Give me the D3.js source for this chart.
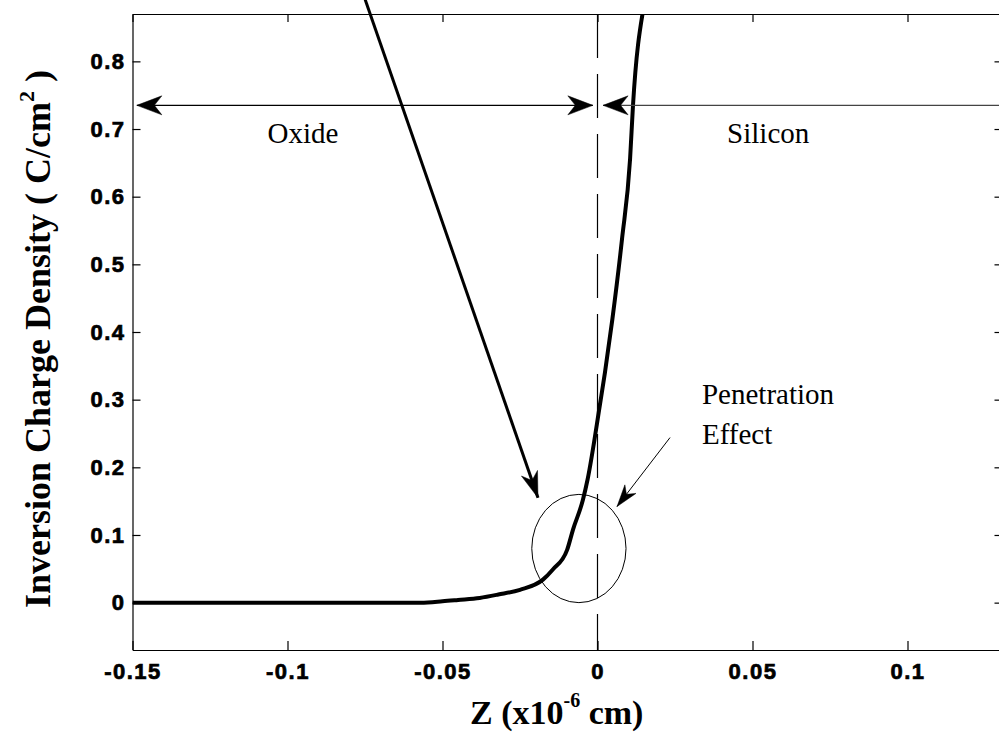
<!DOCTYPE html>
<html>
<head>
<meta charset="utf-8">
<script src="https://cdn.jsdelivr.net/npm/d3@7"></script>
<style>
  html, body { margin: 0; padding: 0; background: #fff; }
  svg { display: block; }
  .tick text { font-family: "Liberation Sans", Arial, sans-serif; font-weight: bold; font-size: 22px; letter-spacing: 1.5px; fill: #000; stroke: #000; stroke-width: 0.7px; }
  .tick line, .domain { stroke: #000; stroke-width: 1.2; }
</style>
</head>
<body>
<svg id="chart" width="999" height="734"></svg>
<script>
// Inversion charge density across the oxide / silicon interface
const positionZ = [-0.15, -0.1, -0.057, -0.05, -0.045, -0.038, -0.032, -0.025, -0.0176, -0.0144,
                   -0.0098, -0.0079, -0.0047, -0.0032, 0.0008, 0.0024, 0.0048, 0.0079, 0.0105, 0.01145, 0.0147];
const chargeDensity = [0, 0, 0, 0.002, 0.004, 0.007, 0.012, 0.019, 0.034, 0.049,
                       0.078, 0.108, 0.152, 0.182, 0.293, 0.34, 0.419, 0.537, 0.655, 0.735, 0.875];

const xTickValues = [-0.15, -0.1, -0.05, 0, 0.05, 0.1];
const xTickLabels = ["-0.15", "-0.1", "-0.05", "0", "0.05", "0.1"];
const yTickValues = [0, 0.1, 0.2, 0.3, 0.4, 0.5, 0.6, 0.7, 0.8];
const yTickLabels = ["0", "0.1", "0.2", "0.3", "0.4", "0.5", "0.6", "0.7", "0.8"];

// Annotation anchors in data units
const interfaceZ = 0;
const regionArrowQ = 0.735;
const oxideArrow = { left: -0.1486, right: -0.0015 };
const siliconArrow = { left: 0.0018, right: 0.13 };
const pointerArrow = { z1: -0.075, q1: 0.892, z2: -0.0192, q2: 0.155 };
const effectArrow = { z1: 0.0234, q1: 0.244, z2: 0.0063, q2: 0.142 };
const effectRing = { z: -0.006, q: 0.08, dz: 0.0152, dq: 0.08 };
const labels = [
  { text: "Oxide", z: -0.095, q: 0.68, anchor: "middle" },
  { text: "Silicon", z: 0.0418, q: 0.68, anchor: "start" },
  { text: "Penetration", z: 0.0337, q: 0.293, anchor: "start" },
  { text: "Effect", z: 0.0337, q: 0.234, anchor: "start" }
];

const svg = d3.select("#chart");
svg.append("rect").attr("width", 999).attr("height", 734).attr("fill", "#fff");

const x = d3.scaleLinear().domain([-0.15, 0.13]).range([132.5, 1000.5]);
const y = d3.scaleLinear().domain([-0.07, 0.87]).range([650, 14]);

const [x0, x1] = x.range();
const [yb, yt] = y.range();

// axes with inward ticks
svg.append("g").attr("transform", `translate(0,${yb})`)
  .call(d3.axisBottom(x).tickValues(xTickValues).tickFormat((d, i) => xTickLabels[i])
        .tickSizeInner(-9).tickSizeOuter(0).tickPadding(13));
svg.append("g").attr("transform", `translate(0,${yt})`)
  .call(d3.axisTop(x).tickValues(xTickValues).tickFormat("")
        .tickSizeInner(-8).tickSizeOuter(0));
svg.append("g").attr("transform", `translate(${x0},0)`)
  .call(d3.axisLeft(y).tickValues(yTickValues).tickFormat((d, i) => yTickLabels[i])
        .tickSizeInner(-8).tickSizeOuter(0).tickPadding(7));
svg.append("g").attr("transform", `translate(${x1},0)`)
  .call(d3.axisRight(y).tickValues(yTickValues).tickFormat("")
        .tickSizeInner(-6).tickSizeOuter(0));

// clip region for the curve
svg.append("clipPath").attr("id", "plotClip")
  .append("rect").attr("x", x0).attr("y", yt).attr("width", x1 - x0).attr("height", yb - yt);

// oxide/silicon interface
svg.append("line")
  .attr("x1", x(interfaceZ)).attr("x2", x(interfaceZ))
  .attr("y1", yt).attr("y2", yb)
  .attr("stroke", "#000").attr("stroke-width", 1.2)
  .attr("stroke-dasharray", "44,16");

// charge density curve
const line = d3.line()
  .x((d, i) => x(positionZ[i]))
  .y((d) => y(d))
  .curve(d3.curveMonotoneX);
svg.append("path")
  .datum(chargeDensity)
  .attr("d", line)
  .attr("fill", "none")
  .attr("stroke", "#000")
  .attr("stroke-width", 4)
  .attr("stroke-linejoin", "round")
  .attr("clip-path", "url(#plotClip)");

// barbed arrowhead with its tip at (tx, ty), pointing along angle a
function arrowHead(g, tx, ty, a, len, wid) {
  const c = Math.cos(a), s = Math.sin(a);
  const pt = (u, v) => [tx + u * c - v * s, ty + u * s + v * c];
  const p = [pt(0, 0), pt(-len, -wid / 2), pt(-len * 0.7, 0), pt(-len, wid / 2)];
  g.append("path")
    .attr("d", "M" + p.map(q => q.join(",")).join("L") + "Z")
    .attr("fill", "#000").attr("stroke", "#000").attr("stroke-width", 0.5);
}

function arrow(g, xa, ya, xb, yb2, width, len, wid, color, both) {
  g.append("line").attr("x1", xa).attr("y1", ya).attr("x2", xb).attr("y2", yb2)
    .attr("stroke", color).attr("stroke-width", width);
  arrowHead(g, xb, yb2, Math.atan2(yb2 - ya, xb - xa), len, wid);
  if (both) arrowHead(g, xa, ya, Math.atan2(ya - yb2, xa - xb), len, wid);
}

const notes = svg.append("g");

// oxide span arrow (both ends) and silicon span arrow
arrow(notes, x(oxideArrow.left), y(regionArrowQ), x(oxideArrow.right), y(regionArrowQ), 1.4, 25, 19, "#000", true);
arrow(notes, x(siliconArrow.right), y(regionArrowQ), x(siliconArrow.left), y(regionArrowQ), 1.1, 25, 19, "#444", false);

// long pointer arrow from above the frame
arrow(notes, x(pointerArrow.z1), y(pointerArrow.q1), x(pointerArrow.z2), y(pointerArrow.q2), 3, 26, 17, "#000", false);

// penetration effect arrow
arrow(notes, x(effectArrow.z1), y(effectArrow.q1), x(effectArrow.z2), y(effectArrow.q2), 1, 22, 14, "#000", false);

// ring around the interface region
notes.append("ellipse")
  .attr("cx", x(effectRing.z)).attr("cy", y(effectRing.q))
  .attr("rx", x(effectRing.z + effectRing.dz) - x(effectRing.z))
  .attr("ry", y(effectRing.q) - y(effectRing.q + effectRing.dq))
  .attr("fill", "none").attr("stroke", "#000").attr("stroke-width", 1);

// annotation text
notes.selectAll("text.note").data(labels).join("text")
  .attr("class", "note")
  .attr("x", d => x(d.z)).attr("y", d => y(d.q))
  .attr("text-anchor", d => d.anchor)
  .attr("font-family", "'Liberation Serif', 'Times New Roman', serif")
  .attr("font-size", 29)
  .attr("fill", "#000")
  .text(d => d.text);

// axis titles
const xTitle = svg.append("text")
  .attr("x", 470).attr("y", 724)
  .attr("font-family", "'Liberation Serif', 'Times New Roman', serif")
  .attr("font-weight", "bold").attr("font-size", 34).attr("fill", "#000");
xTitle.append("tspan").text("Z (x10");
xTitle.append("tspan").attr("font-size", 20).attr("dy", -17).text("-6");
xTitle.append("tspan").attr("dy", 17).text(" cm)");

const yTitle = svg.append("text")
  .attr("transform", "translate(50,339) rotate(-90)")
  .attr("text-anchor", "middle")
  .attr("font-family", "'Liberation Serif', 'Times New Roman', serif")
  .attr("font-weight", "bold").attr("font-size", 36).attr("fill", "#000");
yTitle.append("tspan").text("Inversion Charge Density ( C/cm");
yTitle.append("tspan").attr("font-size", 22).attr("dy", -16).text("2");
yTitle.append("tspan").attr("dy", 16).text(" )");
</script>
</body>
</html>
